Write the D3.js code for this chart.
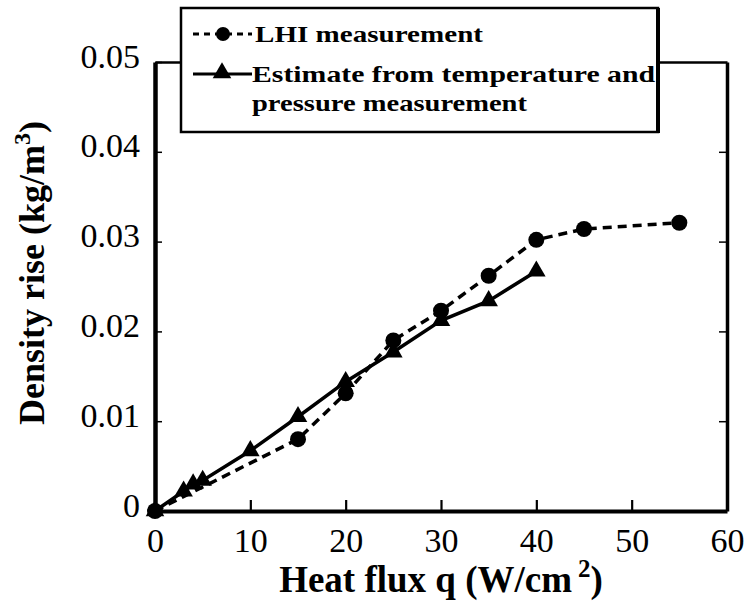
<!DOCTYPE html>
<html>
<head>
<meta charset="utf-8">
<script src="https://cdn.jsdelivr.net/npm/d3@7"></script>
<style>
  html, body { margin: 0; padding: 0; background: #fff; }
  svg { display: block; }
  text { font-family: "Liberation Serif", "Times New Roman", serif; fill: #000; }
</style>
</head>
<body>
<div id="chart"></div>
<script>
// ---- data ----
const lhiX = [0, 15, 20, 25, 30, 35, 40, 45, 55];
const lhiY = [0, 0.0080, 0.0131, 0.0190, 0.0223, 0.0262, 0.0302, 0.0314, 0.0321];
const estX = [0, 3, 4, 5, 10, 15, 20, 25, 30, 35, 40];
const estY = [0, 0.0022, 0.0030, 0.0034, 0.0067, 0.0105, 0.0144, 0.0177, 0.0212, 0.0234, 0.0267];
const xTicks = [0, 10, 20, 30, 40, 50, 60];
const yTicks = [0, 0.01, 0.02, 0.03, 0.04, 0.05];
const yTickLabels = ["0", "0.01", "0.02", "0.03", "0.04", "0.05"];
const legendLabels = ["LHI measurement", "Estimate from temperature and", "pressure measurement"];
const xTitle = "Heat flux q (W/cm";
const yTitle = "Density rise (kg/m";

const W = 744, H = 609;
const margin = {left: 155, right: 17, top: 62, bottom: 98};

const svg = d3.select("#chart").append("svg").attr("width", W).attr("height", H);

const x = d3.scaleLinear().domain([0, 60]).range([margin.left, W - margin.right]);
const y = d3.scaleLinear().domain([0, 0.05]).range([H - margin.bottom, margin.top]);

// ---- axes ----
const xAxis = d3.axisBottom(x).tickValues(xTicks).tickSizeInner(-11).tickSizeOuter(0).tickPadding(17);
const gx = svg.append("g").attr("transform", `translate(0,${y(0)})`).call(xAxis);
gx.select(".domain").attr("stroke-width", 4);
gx.selectAll(".tick line").attr("stroke-width", 2.2);
gx.selectAll(".tick text").attr("font-size", 34).attr("font-family", "Liberation Serif");

const yAxis = d3.axisLeft(y).tickValues(yTicks).tickSizeInner(-7).tickSizeOuter(0).tickPadding(15)
  .tickFormat((d, i) => yTickLabels[i]);
const gy = svg.append("g").attr("transform", `translate(${x(0)},0)`).call(yAxis);
gy.select(".domain").attr("stroke-width", 4.5);
gy.selectAll(".tick line").attr("stroke-width", 1.5);
gy.selectAll(".tick text").attr("font-size", 34).attr("font-family", "Liberation Serif").attr("dy", "0.15em");

const yAxisR = d3.axisRight(y).tickValues(yTicks.slice(1, 5)).tickSizeInner(-8).tickSizeOuter(0).tickFormat("");
const gyr = svg.append("g").attr("transform", `translate(${x(60)},0)`).call(yAxisR);
gyr.select(".domain").attr("stroke-width", 3.5);
gyr.selectAll(".tick line").attr("stroke-width", 1.5);

const xAxisT = d3.axisTop(x).tickValues([]).tickSizeOuter(0);
const gxt = svg.append("g").attr("transform", `translate(0,${y(0.05)})`).call(xAxisT);
gxt.select(".domain").attr("stroke-width", 2.5);

// ---- series ----
const lhi = lhiX.map((v, i) => [v, lhiY[i]]);
const est = estX.map((v, i) => [v, estY[i]]);
const line = d3.line().x(d => x(d[0])).y(d => y(d[1]));

svg.append("path").datum(lhi).attr("d", line)
  .attr("fill", "none").attr("stroke", "#000").attr("stroke-width", 3.5)
  .attr("stroke-dasharray", "9,6");
svg.append("path").datum(est).attr("d", line)
  .attr("fill", "none").attr("stroke", "#000").attr("stroke-width", 3.5);

const tri = d3.symbol().type(d3.symbolTriangle).size(150);
svg.append("g").selectAll("path").data(est).join("path")
  .attr("d", tri).attr("transform", d => `translate(${x(d[0])},${y(d[1])})`).attr("fill", "#000");
svg.append("g").selectAll("circle").data(lhi).join("circle")
  .attr("cx", d => x(d[0])).attr("cy", d => y(d[1])).attr("r", 8).attr("fill", "#000");

// ---- axis titles ----
const xt = svg.append("text").attr("x", (x(0) + x(60)) / 2).attr("y", 592)
  .attr("text-anchor", "middle").attr("font-size", 37).attr("font-weight", "bold");
xt.append("tspan").text(xTitle);
xt.append("tspan").attr("dx", 6).attr("dy", -15).attr("font-size", 25).text("2");
xt.append("tspan").attr("dy", 15).text(")");

const yt = svg.append("text").attr("transform", `translate(44,273) rotate(-90)`)
  .attr("text-anchor", "middle").attr("font-size", 36).attr("font-weight", "bold");
yt.append("tspan").text(yTitle);
yt.append("tspan").attr("dy", -14).attr("font-size", 24).text("3");
yt.append("tspan").attr("dy", 14).text(")");

// ---- legend ----
const lg = svg.append("g");
lg.append("rect").attr("x", 181).attr("y", 8).attr("width", 477).attr("height", 124)
  .attr("fill", "#fff").attr("stroke", "#000").attr("stroke-width", 2.5);
lg.append("line").attr("x1", 658).attr("x2", 658).attr("y1", 8).attr("y2", 133)
  .attr("stroke", "#000").attr("stroke-width", 4);

lg.append("line").attr("x1", 193).attr("x2", 252).attr("y1", 34).attr("y2", 34)
  .attr("stroke", "#000").attr("stroke-width", 3).attr("stroke-dasharray", "6,5");
lg.append("circle").attr("cx", 223).attr("cy", 34).attr("r", 7).attr("fill", "#000");
lg.append("line").attr("x1", 193).attr("x2", 252).attr("y1", 74).attr("y2", 74)
  .attr("stroke", "#000").attr("stroke-width", 3);
lg.append("path").attr("d", d3.symbol().type(d3.symbolTriangle).size(150)())
  .attr("transform", "translate(222,73)").attr("fill", "#000");

const legendPos = [[255, 42, 228], [252, 82, 403], [252, 111, 275]];
legendLabels.forEach((t, i) => {
  lg.append("text").attr("x", legendPos[i][0]).attr("y", legendPos[i][1])
    .attr("font-size", 23).attr("font-weight", "bold")
    .attr("textLength", legendPos[i][2]).attr("lengthAdjust", "spacingAndGlyphs")
    .text(t);
});
</script>
</body>
</html>
